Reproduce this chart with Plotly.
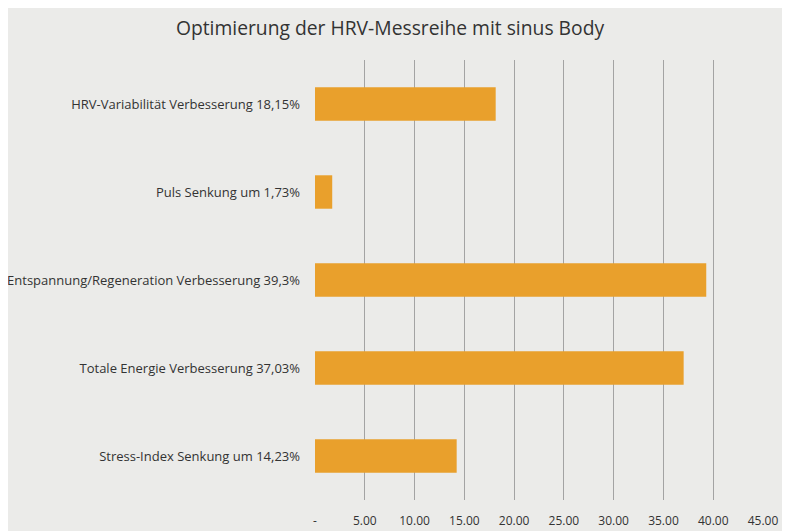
import plotly.graph_objects as go

categories = [
    "HRV-Variabilität Verbesserung 18,15%",
    "Puls Senkung um 1,73%",
    "Entspannung/Regeneration Verbesserung 39,3%",
    "Totale Energie Verbesserung 37,03%",
    "Stress-Index Senkung um 14,23%",
]
values = [18.15, 1.73, 39.3, 37.03, 14.23]
tick_values = [0, 5, 10, 15, 20, 25, 30, 35, 40, 45]
tick_labels = ["-", "5.00", "10.00", "15.00", "20.00", "25.00", "30.00", "35.00", "40.00", "45.00"]
title_text = "Optimierung der HRV-Messreihe mit sinus Body"

# page body has an 8px default margin, so the figure is sized/offset accordingly
W, H = 782, 523
ml, mr, mt, mb = 307, 27, 52, 31

fig = go.Figure(go.Bar(
    x=values, y=categories, orientation="h",
    marker=dict(color="#E9A02C", line=dict(width=0)),
))

fig.update_layout(
    width=W, height=H,
    margin=dict(l=ml, r=mr, t=mt, b=mb, pad=0, autoexpand=False),
    paper_bgcolor="#ebebe9",
    plot_bgcolor="#ebebe9",
    font=dict(family="'Open Sans', sans-serif", color="#333333"),
    title=dict(text=title_text, x=0.5 - 9 / W, xanchor="center", y=1 - 20 / H, yanchor="middle",
               font=dict(size=19.3, color="#333333")),
    bargap=0.62,
    showlegend=False,
    xaxis=dict(range=[0, 45], tickvals=tick_values, ticktext=tick_labels,
               showgrid=True, gridcolor="#a3a3a3", gridwidth=1,
               zeroline=False, showline=False, ticks="",
               tickfont=dict(size=12, color="#333333"), ticklabelstandoff=12),
    yaxis=dict(autorange="reversed", showgrid=False, showline=False, ticks="",
               tickfont=dict(size=13, color="#333333"), ticklabelstandoff=14),
)

fig.write_html("out.html")
